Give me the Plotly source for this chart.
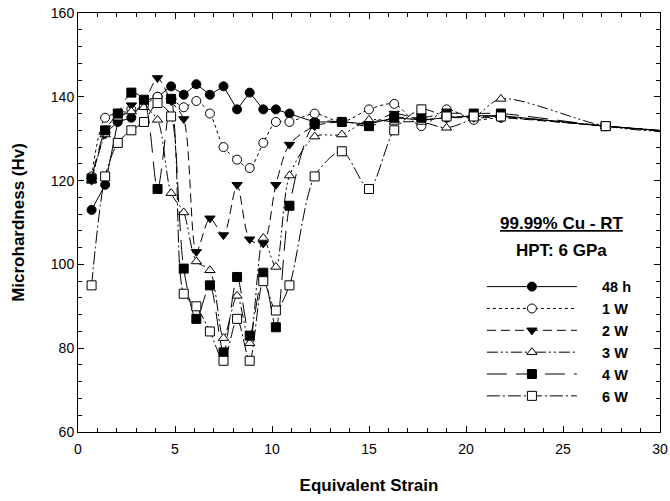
import plotly.graph_objects as go

strain = [0.7, 1.4, 2.05, 2.75, 3.4, 4.1, 4.8, 5.45, 6.1, 6.8, 7.5, 8.2, 8.85,
          9.55, 10.2, 10.9, 12.2, 13.6, 15.0, 16.3, 17.7, 19.0, 20.4, 21.8, 27.2, 32.6]

hv_48h = [113, 119, 134, 135, 139, 140, 142.5, 140.5, 143, 140.5, 142.5, 137, 141,
          137, 137, 136, 134, 134, 133.5, 135, 134.5, 135, 135.5, 135.5, 133, 131]
hv_1w = [121, 135, 136, 137, 138, 140, 139.5, 137.5, 139, 136, 128, 125, 123,
         129, 134, 134, 136, 134, 137, 138.3, 133, 137, 134.5, 135, 133, 131]
hv_2w = [120, 131, 134, 138, 139, 144.5, 139, 134.7, 103, 111, 107, 119, 106,
         105, 119, 128.6, 133, 134, 133.5, 136, 134.5, 135, 135, 135, 133, 131]
hv_3w = [120, 131, 135, 136.5, 137.5, 134.5, 117, 112.4, 100.7, 98.6, 82.4, 92.5, 81.2,
         106.3, 99.4, 121.2, 130.5, 131, 134.5, 134, 134, 132.6, 135, 139.5, 133, 131]
hv_4w = [120.5, 132, 136, 141, 139.3, 118, 139.5, 99, 87, 95, 79, 97, 83,
         98, 85, 114, 133.5, 134, 133, 135, 135, 136, 136, 136, 133, 131]
hv_6w = [95, 121, 129, 132, 134, 138.5, 135.3, 93, 90, 84, 77, 87, 77,
         96, 89, 95, 121, 127, 118, 132, 137, 135.3, 135.3, 135.3, 133, 131]

labels = ["48 h", "1 W", "2 W", "3 W", "4 W", "6 W"]
series = [hv_48h, hv_1w, hv_2w, hv_3w, hv_4w, hv_6w]
symbols = ["circle", "circle", "triangle-down", "triangle-up", "square", "square"]
fills = ["black", "white", "black", "white", "black", "white"]
dashes = ["solid", "dot", "9px,5px", "11px,3px,2px,3px,2px,3px", "20px,9px", "13px,3px,2px,3px"]
shapes = ["linear", "spline", "spline", "spline", "spline", "spline"]

fig = go.Figure()
for lab, y, sym, fc, da, sh in zip(labels, series, symbols, fills, dashes, shapes):
    fig.add_trace(go.Scatter(
        x=strain, y=y, name="     " + lab, mode="lines+markers",
        line=dict(color="black", width=1, dash=da, shape=sh, smoothing=0.8),
        marker=dict(symbol=sym, size=9, color=fc, line=dict(color="black", width=1)),
    ))

axis_common = dict(
    showline=True, linecolor="black", linewidth=1, mirror="ticks",
    ticks="inside", ticklen=6, tickcolor="black", tickwidth=1,
    showgrid=False, zeroline=False, automargin=False,
    tickfont=dict(family="Arial, Liberation Sans", size=14, color="black"),
)

fig.update_xaxes(
    range=[0, 30], dtick=5, tick0=0, ticklabelstandoff=4,
    minor=dict(dtick=1, ticks="inside", ticklen=4, tickcolor="black", showgrid=False),
    title=dict(text="<b>Equivalent Strain</b>", standoff=23,
               font=dict(family="Arial, Liberation Sans", size=17, color="black")),
    **axis_common,
)
fig.update_yaxes(
    range=[60, 160], dtick=20, tick0=60,
    minor=dict(dtick=4, tick0=60, ticks="inside", ticklen=4, tickcolor="black", showgrid=False),
    title=dict(text="<b>Microhardness (Hv)</b>", standoff=21,
               font=dict(family="Arial, Liberation Sans", size=17, color="black")),
    **axis_common,
)

fig.add_annotation(
    x=0.831, y=0.497, xref="paper", yref="paper", xanchor="center", yanchor="middle",
    text="<b><u>99.99% Cu - RT</u></b>", showarrow=False,
    font=dict(family="Arial, Liberation Sans", size=17, color="black"),
)
fig.add_annotation(
    x=0.831, y=0.433, xref="paper", yref="paper", xanchor="center", yanchor="middle",
    text="<b>HPT: 6 GPa</b>", showarrow=False,
    font=dict(family="Arial, Liberation Sans", size=17, color="black"),
)

fig.update_layout(
    width=670, height=501,
    margin=dict(l=78, r=10, t=13, b=69),
    paper_bgcolor="white", plot_bgcolor="white",
    showlegend=True,
    legend=dict(
        x=0.694, y=0.385, xanchor="left", yanchor="top",
        bgcolor="rgba(0,0,0,0)", itemwidth=90,
        font=dict(family="Arial, Liberation Sans", size=14.5, color="black", weight="bold"),
        tracegroupgap=0,
    ),
)

fig.write_html("out.html")
